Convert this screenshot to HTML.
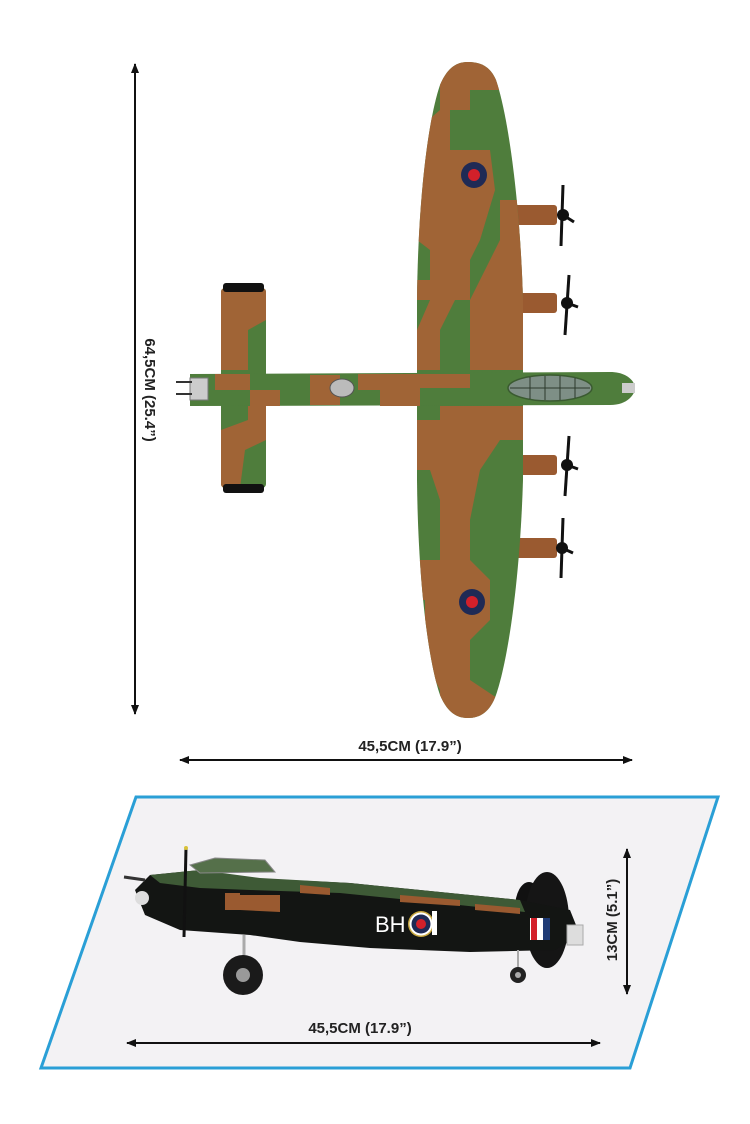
<!DOCTYPE html>
<html><head><meta charset="utf-8"><style>
html,body{margin:0;padding:0;background:#fff;}
svg{display:block;}
text{font-family:"Liberation Sans",sans-serif;font-weight:bold;fill:#222;}
</style></head><body>
<svg width="750" height="1124" viewBox="0 0 750 1124" xmlns="http://www.w3.org/2000/svg">
<defs>
<marker id="ah" markerWidth="10" markerHeight="10" refX="9" refY="5" orient="auto-start-reverse" markerUnits="userSpaceOnUse">
<path d="M0,1 L10,5 L0,9 Z" fill="#111"/></marker>
<clipPath id="wingc"><path d="M417,300 C418,200 428,120 440,85 C448,66 458,62 468,62 C480,62 490,66 496,80 C508,115 520,200 523,300 L523,480 C520,580 508,660 496,695 C490,712 480,718 468,718 C458,718 448,714 440,695 C428,660 418,580 417,480 Z"/></clipPath>
<clipPath id="tailc"><rect x="221" y="288" width="45" height="200" rx="4"/></clipPath>
</defs>

<!-- dimension lines top -->
<line x1="135" y1="64" x2="135" y2="714" stroke="#111" stroke-width="2" marker-start="url(#ah)" marker-end="url(#ah)"/>
<text x="0" y="0" font-size="15" transform="translate(145,390) rotate(90)" text-anchor="middle">64,5CM (25.4”)</text>
<line x1="180" y1="760" x2="632" y2="760" stroke="#111" stroke-width="2" marker-start="url(#ah)" marker-end="url(#ah)"/>
<text x="410" y="751" font-size="15" text-anchor="middle">45,5CM (17.9”)</text>

<!-- engines -->
<g fill="#9a5a30">
<rect x="512" y="205" width="45" height="20" rx="3"/>
<rect x="512" y="293" width="45" height="20" rx="3"/>
<rect x="512" y="455" width="45" height="20" rx="3"/>
<rect x="512" y="538" width="45" height="20" rx="3"/>
</g>
<g stroke="#111" stroke-width="3" fill="#111">
<line x1="563" y1="185" x2="561" y2="246"/><circle cx="563" cy="215" r="6" stroke="none"/><line x1="563" y1="215" x2="574" y2="222"/>
<line x1="569" y1="275" x2="565" y2="335"/><circle cx="567" cy="303" r="6" stroke="none"/><line x1="567" y1="303" x2="578" y2="307"/>
<line x1="569" y1="436" x2="565" y2="496"/><circle cx="567" cy="465" r="6" stroke="none"/><line x1="567" y1="465" x2="578" y2="469"/>
<line x1="563" y1="518" x2="561" y2="578"/><circle cx="562" cy="548" r="6" stroke="none"/><line x1="562" y1="548" x2="573" y2="553"/>
</g>

<!-- wing -->
<g clip-path="url(#wingc)">
<rect x="410" y="55" width="120" height="670" fill="#4f7d3c"/>
<path d="M440,62 L500,62 L500,90 L470,90 L470,110 L450,110 L450,150 L490,150 L495,190 L480,240 L470,260 L470,300 L455,300 L440,330 L440,370 L417,370 L417,330 L430,300 L430,250 L417,240 L417,130 L440,110 Z" fill="#a06436"/>
<path d="M500,200 L523,200 L523,370 L470,370 L470,300 L490,260 L500,240 Z" fill="#a06436"/>
<path d="M417,280 L440,280 L440,300 L417,300 Z" fill="#a06436"/>
<path d="M440,406 L523,406 L523,440 L500,440 L480,470 L470,520 L470,560 L490,580 L490,620 L470,640 L470,680 L500,700 L500,720 L440,720 L440,690 L425,660 L425,600 L440,560 L440,500 L430,470 L417,470 L417,420 L440,420 Z" fill="#a06436"/>
<path d="M417,560 L440,560 L440,600 L417,600 Z" fill="#a06436"/>
</g>
<circle cx="474" cy="175" r="13" fill="#1f2a55"/><circle cx="474" cy="175" r="6" fill="#d3202a"/>
<circle cx="472" cy="602" r="13" fill="#1f2a55"/><circle cx="472" cy="602" r="6" fill="#d3202a"/>

<!-- tailplane -->
<g clip-path="url(#tailc)">
<rect x="221" y="288" width="45" height="200" fill="#4f7d3c"/>
<path d="M221,288 L266,288 L266,320 L248,330 L248,370 L221,370 Z" fill="#a06436"/>
<path d="M248,406 L266,406 L266,440 L245,450 L240,488 L221,488 L221,430 L248,420 Z" fill="#a06436"/>
</g>
<rect x="223" y="283" width="41" height="9" rx="3" fill="#111"/>
<rect x="223" y="484" width="41" height="9" rx="3" fill="#111"/>

<!-- fuselage -->
<path d="M190,374 L610,372 C628,372 635,382 635,388 C635,394 628,405 610,405 L190,406 Z" fill="#4f7d3c"/>
<path d="M215,374 L250,374 L250,390 L215,390 Z M310,375 L340,375 L340,405 L310,405 Z M358,374 L470,374 L470,388 L420,388 L420,406 L380,406 L380,390 L358,390 Z M250,390 L280,390 L280,406 L250,406 Z" fill="#a06436"/>
<ellipse cx="550" cy="388" rx="42" ry="13" fill="#7e8f86" stroke="#3a5a30" stroke-width="1.5"/>
<g stroke="#2c3a2c" stroke-width="1"><line x1="530" y1="377" x2="530" y2="399"/><line x1="545" y1="376" x2="545" y2="400"/><line x1="560" y1="376" x2="560" y2="400"/><line x1="575" y1="378" x2="575" y2="398"/><line x1="510" y1="388" x2="590" y2="388"/></g>
<ellipse cx="342" cy="388" rx="12" ry="9" fill="#bbb" stroke="#555"/>
<rect x="190" y="378" width="18" height="22" fill="#ccc" stroke="#777"/>
<line x1="176" y1="382" x2="192" y2="382" stroke="#333" stroke-width="2"/><line x1="176" y1="394" x2="192" y2="394" stroke="#333" stroke-width="2"/>
<rect x="622" y="383" width="13" height="10" fill="#ccc"/>

<!-- parallelogram -->
<path d="M136,797 L718,797 L630,1068 L41,1068 Z" fill="#f3f2f4" stroke="#2a9fd6" stroke-width="3"/>

<!-- side view -->
<ellipse cx="529" cy="908" rx="14" ry="26" fill="#111"/>
<ellipse cx="547" cy="920" rx="22" ry="48" fill="#151515"/>
<path d="M135,890 L150,875 L200,870 L250,878 L350,883 L450,893 L520,900 L570,910 L580,935 L555,950 L470,952 L370,948 L300,942 L250,935 L180,930 L145,915 Z" fill="#131513"/>
<path d="M150,875 L200,870 L260,878 L350,883 L450,893 L520,900 L525,912 L440,903 L340,893 L250,890 L200,888 L160,883 Z" fill="#3e5a36"/>
<path d="M190,865 L215,858 L265,860 L275,872 L200,873 Z" fill="#55704a" stroke="#888" stroke-width="1"/>
<path d="M300,885 L330,888 L330,895 L300,893 Z M400,895 L460,900 L460,906 L400,902 Z M475,904 L520,908 L520,914 L475,910 Z M225,893 L240,893 L240,910 L225,910 Z M240,895 L280,895 L280,912 L240,910 Z" fill="#9a5a30"/>
<rect x="530" y="918" width="20" height="22" fill="#fff"/>
<rect x="531" y="918" width="6" height="22" fill="#d3202a"/><rect x="543" y="918" width="7" height="22" fill="#1f3b75"/>
<rect x="567" y="925" width="16" height="20" fill="#ddd" stroke="#aaa"/>
<text x="375" y="932" font-size="22" style="fill:#fff;font-weight:normal">BH</text>
<circle cx="421" cy="924" r="13" fill="#c9a840"/><circle cx="421" cy="924" r="11.5" fill="#fff"/><circle cx="421" cy="924" r="9.5" fill="#1f2a55"/><circle cx="421" cy="924" r="5" fill="#d3202a"/>
<rect x="432" y="911" width="5" height="24" fill="#fff"/>
<circle cx="142" cy="898" r="7" fill="#ddd"/>
<line x1="124" y1="877" x2="145" y2="880" stroke="#333" stroke-width="3"/>
<line x1="186" y1="848" x2="184" y2="937" stroke="#111" stroke-width="3"/>
<circle cx="186" cy="848" r="2" fill="#d8c23a"/>
<line x1="244" y1="935" x2="244" y2="965" stroke="#aaa" stroke-width="3"/>
<circle cx="243" cy="975" r="20" fill="#1a1a1a"/><circle cx="243" cy="975" r="7" fill="#999"/>
<line x1="518" y1="950" x2="518" y2="968" stroke="#aaa" stroke-width="2"/>
<circle cx="518" cy="975" r="8" fill="#222"/><circle cx="518" cy="975" r="3" fill="#aaa"/>

<line x1="627" y1="849" x2="627" y2="994" stroke="#111" stroke-width="2" marker-start="url(#ah)" marker-end="url(#ah)"/>
<text x="0" y="0" font-size="15" transform="translate(617,920) rotate(-90)" text-anchor="middle">13CM (5.1”)</text>
<line x1="127" y1="1043" x2="600" y2="1043" stroke="#111" stroke-width="2" marker-start="url(#ah)" marker-end="url(#ah)"/>
<text x="360" y="1033" font-size="15" text-anchor="middle">45,5CM (17.9”)</text>
</svg>
</body></html>
